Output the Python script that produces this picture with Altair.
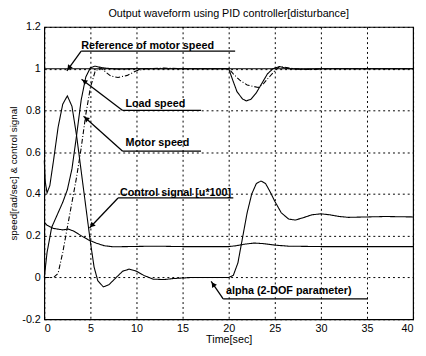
import math
import altair as alt
import pandas as pd

# ---------------- data ----------------
ref_t = [0, 40]
ref_v = [1.0, 1.0]

motor_t = [0, 0.3, 0.8, 1.4, 2.0, 2.5, 3.0, 3.5, 4.0, 4.5, 5.0, 5.5, 6.5, 8, 10, 20,
           20.4, 20.9, 21.5, 21.9, 22.4, 23.0, 23.6, 24.2, 24.8, 25.5, 26.5, 28, 30, 40]
motor_v = [0, 0.12, 0.24, 0.30, 0.36, 0.42, 0.52, 0.68, 0.85, 0.96, 1.005, 1.012, 1.003, 0.998, 1.0, 1.0,
           0.95, 0.89, 0.855, 0.846, 0.853, 0.885, 0.93, 0.975, 1.0, 1.01, 1.0, 0.997, 1.0, 1.0]

load_t = [0, 1.0, 1.5, 2.0, 2.5, 3.0, 3.5, 4.0, 4.5, 5.0, 5.5, 6.0, 6.5, 7.2, 8.0, 9.0, 10.0, 11, 13, 15, 20,
          20.5, 21.2, 22.0, 23.2, 23.8, 24.5, 25.0, 25.5, 26, 27, 29, 31, 40]
load_v = [0, 0.0, 0.02, 0.12, 0.24, 0.36, 0.48, 0.62, 0.78, 0.91, 0.985, 1.005, 0.99, 0.965, 0.958, 0.968, 0.99, 1.0, 1.003, 1.0, 1.0,
          0.975, 0.945, 0.922, 0.91, 0.93, 0.965, 0.99, 1.01, 1.008, 1.0, 0.996, 1.0, 1.0]

ctrl_t = [0, 0.1, 0.3, 0.6, 1.0, 1.5, 2.0, 2.5, 3.0, 3.5, 4.0, 4.5, 5.0, 5.4, 5.8, 6.4, 7.0, 7.8, 8.5, 9.2, 10, 10.8,
          11.8, 13, 14, 16, 18, 20, 20.5, 21.0, 21.5, 22.0, 22.5, 23.0, 23.5, 24.0, 24.5, 25, 25.7, 26.5, 27.2,
          28, 29, 30, 31, 32, 33, 35, 37, 40]
ctrl_v = [0.56, 0.46, 0.405, 0.44, 0.56, 0.72, 0.83, 0.87, 0.82, 0.68, 0.51, 0.34, 0.17, 0.05, -0.015, -0.045, -0.035, 0.0, 0.03, 0.04, 0.03, 0.01,
          -0.008, -0.01, -0.005, 0.0, 0.0, 0.0, 0.01, 0.07, 0.19, 0.31, 0.40, 0.45, 0.462, 0.45, 0.41, 0.365, 0.31, 0.28, 0.275,
          0.285, 0.30, 0.305, 0.30, 0.292, 0.288, 0.29, 0.292, 0.29]

alpha_t = [0, 0.3, 1.0, 2.0, 2.6, 3.2, 4.0, 4.8, 5.6, 6.5, 7.5, 9, 12, 15, 20, 20.8, 21.8, 22.8, 23.8, 25, 26.5, 30, 40]
alpha_v = [0.265, 0.25, 0.235, 0.228, 0.232, 0.222, 0.2, 0.18, 0.165, 0.152, 0.147, 0.148, 0.15, 0.148, 0.148,
           0.152, 0.16, 0.165, 0.162, 0.155, 0.15, 0.148, 0.148]

x_ticks = [0, 5, 10, 15, 20, 25, 30, 35, 40]
y_ticks = [-0.2, 0, 0.2, 0.4, 0.6, 0.8, 1.0, 1.2]

# annotations: label, text position, underline span, arrow tip
ann_labels = ["Reference of motor speed", "Load speed", "Motor speed",
              "Control signal [u*100]", "alpha (2-DOF parameter)"]
ann_text_t = [4.0, 8.8, 8.8, 8.2, 19.7]
ann_text_v = [1.11, 0.83, 0.645, 0.405, -0.063]
ann_line_t0 = [4.0, 8.5, 8.5, 8.0, 19.4]
ann_line_t1 = [20.7, 17.0, 17.0, 20.5, 35.1]
ann_line_v = [1.084, 0.80, 0.605, 0.381, -0.102]
ann_tip_t = [2.45, 4.04, 4.26, 4.9, 18.1]
ann_tip_v = [0.99, 0.95, 0.772, 0.237, -0.019]

# ---------------- build ----------------
W, H = 376, 298
XD = [0, 40]
YD = [-0.2, 1.2]
sx = W / (XD[1] - XD[0])
sy = H / (YD[1] - YD[0])

rows = []
for name, ts, vs in [("Reference", ref_t, ref_v), ("Motor speed", motor_t, motor_v),
                     ("Load speed", load_t, load_v), ("Control signal", ctrl_t, ctrl_v),
                     ("alpha", alpha_t, alpha_v)]:
    for t, v in zip(ts, vs):
        rows.append({"series": name, "t": t, "v": v})
df = pd.DataFrame(rows)

ann_rows = []
for i, lab in enumerate(ann_labels):
    dx = (ann_tip_t[i] - ann_line_t0[i]) * sx
    dy = -(ann_tip_v[i] - ann_line_v[i]) * sy  # screen down positive
    ang = math.degrees(math.atan2(dx, -dy)) % 360
    L = math.hypot(dx, dy)
    back = 3.5
    ht = ann_tip_t[i] - (dx / L) * back / sx
    hv = ann_tip_v[i] + (dy / L) * back / sy
    ann_rows.append({"label": lab, "tt": ann_text_t[i], "tv": ann_text_v[i],
                     "l0": ann_line_t0[i], "l1": ann_line_t1[i], "lv": ann_line_v[i],
                     "pt": ann_tip_t[i], "pv": ann_tip_v[i], "ht": ht, "hv": hv, "ang": ang})
adf = pd.DataFrame(ann_rows)

xscale = alt.Scale(domain=XD, nice=False, zero=False)
yscale = alt.Scale(domain=YD, nice=False, zero=False)

FONT = "Liberation Sans"
GRID = dict(grid=True, gridColor="black", gridDash=[2, 3], gridOpacity=1, gridWidth=1)
LAB = dict(labelFont=FONT, labelFontSize=11, labelColor="black",
           titleFont=FONT, titleFontWeight="normal", titleColor="black")

xaxis = alt.Axis(values=x_ticks, title="Time[sec]", ticks=False, domain=False,
                 labelPadding=3, titlePadding=1, format="d", titleFontSize=11, **GRID, **LAB)
yaxis = alt.Axis(values=y_ticks, title="speed[rad/sec] & control signal", ticks=False,
                 domain=False, labelPadding=4, titlePadding=3, titleFontSize=10,
                 labelExpr="replace(format(datum.value, '.1~f'), '\u2212', '-')", **GRID, **LAB)

lines = alt.Chart(df).mark_line(color="black", strokeWidth=1.1).encode(
    x=alt.X("t:Q", scale=xscale, axis=xaxis),
    y=alt.Y("v:Q", scale=yscale, axis=yaxis),
    strokeDash=alt.StrokeDash("series:N", legend=None,
                              scale=alt.Scale(domain=["Reference", "Motor speed", "Load speed", "Control signal", "alpha"],
                                              range=[[1, 0], [1, 0], [5, 2, 1, 2], [1, 0], [1, 0]])),
    detail="series:N",
    order="t:Q",
)

base = alt.Chart(adf)
texts = base.mark_text(align="left", baseline="middle", font=FONT, fontSize=11, fontWeight="bold",
                       color="black").encode(
    x=alt.X("tt:Q", scale=xscale, axis=xaxis), y=alt.Y("tv:Q", scale=yscale, axis=yaxis), text="label:N")
under = base.mark_rule(color="black", strokeWidth=1.3).encode(
    x=alt.X("l0:Q", scale=xscale, axis=xaxis), x2="l1:Q", y=alt.Y("lv:Q", scale=yscale, axis=yaxis))
diag = base.mark_rule(color="black", strokeWidth=1.3).encode(
    x=alt.X("l0:Q", scale=xscale, axis=xaxis), x2="pt:Q", y=alt.Y("lv:Q", scale=yscale, axis=yaxis), y2="pv:Q")
heads = base.mark_point(shape="triangle-up", filled=True, color="black", size=35, opacity=1).encode(
    x=alt.X("ht:Q", scale=xscale, axis=xaxis), y=alt.Y("hv:Q", scale=yscale, axis=yaxis),
    angle=alt.Angle("ang:Q", scale=None))

chart = alt.layer(lines, under, diag, heads, texts).properties(
    width=W, height=H,
    background="white",
    title=alt.TitleParams("Output waveform using PID controller[disturbance]", font=FONT, fontSize=11,
                          fontWeight="normal", color="black", offset=2),
    autosize=alt.AutoSizeParams(type="none"),
    padding={"left": 37, "top": 16, "right": 5, "bottom": 26},
).configure_view(stroke="black", strokeWidth=1.2)

chart.save("out.html", embed_options={"renderer": "svg", "actions": False})
